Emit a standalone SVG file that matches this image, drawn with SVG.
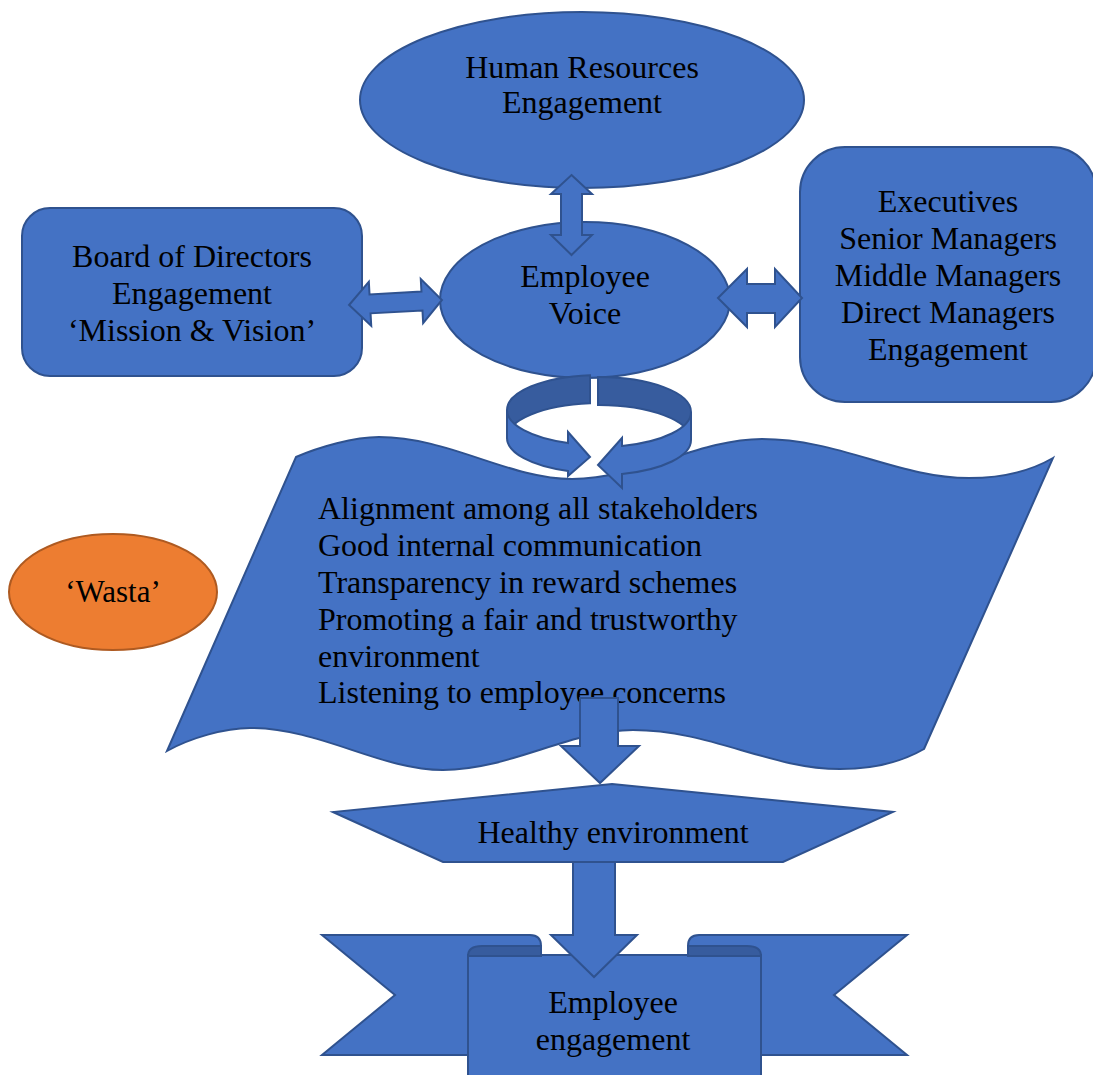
<svg xmlns="http://www.w3.org/2000/svg" width="1093" height="1075" viewBox="0 0 1093 1075">
<style>
.s{fill:#4472C4;stroke:#2F528F;stroke-width:2;stroke-linejoin:miter}
.d{fill:#375C9E;stroke:#2F528F;stroke-width:2}
.o{fill:#ED7D31;stroke:#AE5A21;stroke-width:2}
text{font-family:"Liberation Serif","Times New Roman",serif;font-size:32px;fill:#000}
.c{text-anchor:middle}
</style>
<rect width="1093" height="1075" fill="#fff"/>
<g id="hr"><ellipse class="s" cx="582" cy="100" rx="222" ry="88"/>
<text class="c" x="582" y="78">Human Resources</text><text class="c" x="582" y="113">Engagement</text></g>
<g id="voice"><ellipse class="s" cx="585" cy="300" rx="145" ry="78"/>
<text class="c" x="585" y="287">Employee</text><text class="c" x="585" y="324">Voice</text></g>
<g id="board"><rect class="s" x="22" y="208" width="340" height="168" rx="28"/>
<text class="c" x="192" y="267">Board of Directors</text><text class="c" x="192" y="304">Engagement</text><text class="c" x="192" y="341">‘Mission &amp; Vision’</text></g>
<g id="executives"><rect class="s" x="800" y="147" width="296" height="255" rx="45"/>
<text class="c" x="948" y="212">Executives</text><text class="c" x="948" y="249">Senior Managers</text><text class="c" x="948" y="286">Middle Managers</text><text class="c" x="948" y="323">Direct Managers</text><text class="c" x="948" y="360">Engagement</text></g>
<g id="factors"><path class="s" d="M296,457 C319,447 354,437 379,437 C449,437 509,479 572,479 C639,479 699,439 762,439 C839,439 899,478 969,478 C1009,478 1034,469 1053,458 L924,749 C905,760 880,769 840,769 C770,769 710,730 633,730 C570,730 510,770 443,770 C380,770 320,728 250,728 C225,728 190,738 167,751 Z"/>
<text x="318" y="519">Alignment among all stakeholders</text>
<text x="318" y="556">Good internal communication</text>
<text x="318" y="593">Transparency in reward schemes</text>
<text x="318" y="630">Promoting a fair and trustworthy</text>
<text x="318" y="667">environment</text>
<text x="318" y="703">Listening to employee concerns</text></g>
<g id="wasta"><ellipse class="o" cx="113" cy="592" rx="104" ry="58"/><text class="c" x="113" y="602" style="font-size:31px">‘Wasta’</text></g>
<g id="healthy"><path class="s" d="M612,784 L893,812 L783,862 L443,862 L333,812 Z"/><text class="c" x="613" y="843">Healthy environment</text></g>
<g id="engagement">
<path class="s" d="M322,935 L530,935 Q541,935 541,946 L541,1055 L322,1055 L395,995 Z"/>
<path class="s" d="M907,935 L699,935 Q688,935 688,946 L688,1055 L907,1055 L834,995 Z"/>
<rect class="s" x="468" y="955" width="293" height="130"/>
<path class="d" d="M468,956 Q468,946 482,946 L541,946 L541,956 Z"/>
<path class="d" d="M761,956 Q761,946 747,946 L688,946 L688,956 Z"/>
<text class="c" x="613" y="1013">Employee</text><text class="c" x="613" y="1050">engagement</text></g>
<g id="connectors">
<path class="s" d="M571.5,175 L592,194 L582,194 L582,235 L592,235 L571.5,255 L551,235 L561,235 L561,194 L551,194 Z"/>
<path class="s" transform="translate(395.5,302.5) rotate(-3.1)" d="M-46.5,0 L-25.5,-22 L-25.5,-9.5 L26.5,-9.5 L26.5,-22 L46.5,0 L26.5,22 L26.5,9.5 L-25.5,9.5 L-25.5,22 Z"/>
<path class="s" d="M718,298 L747,269 L747,284 L775,284 L775,269 L802,298 L775,327 L775,313 L747,313 L747,327 Z"/>
<path class="d" d="M590,375.2 A92,35 0 0 0 507,410 L507,438 A92,35 0 0 1 590,403.2 Z"/>
<path class="d" d="M598,377 A92,35 0 0 1 691,412 L691,440 A92,35 0 0 0 598,405 Z"/>
<path class="s" d="M507,410 A92,35 0 0 0 568,443 L568,432 L590,457 L568,476 L568,471 A92,35 0 0 1 507,438 Z"/>
<path class="s" d="M691,412 A92,35 0 0 1 622,446 L622,438 L598,465 L622,488 L622,474 A92,35 0 0 0 691,440 Z"/>
<path class="s" d="M580,698 L618,698 L618,746 L639,746 L600,783 L561,746 L580,746 Z"/>
<path class="s" d="M573,862 L615,862 L615,935 L637,935 L594,977 L551,935 L573,935 Z"/>
</g>
</svg>
